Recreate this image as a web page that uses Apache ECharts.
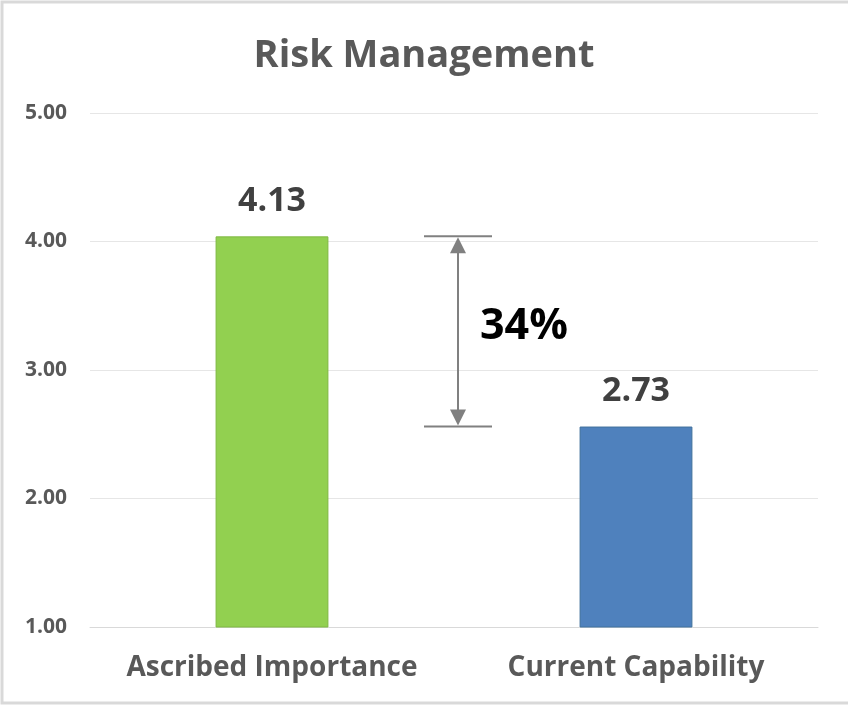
<!DOCTYPE html>
<html>
<head>
<meta charset="utf-8">
<script src="https://cdn.jsdelivr.net/npm/echarts@6/dist/echarts.min.js"></script>
<style>
  html, body { margin: 0; padding: 0; background: #fff; }
  #chart { width: 848px; height: 706px; }
</style>
</head>
<body>
<div id="chart"></div>
<script>
const categories = ["Ascribed Importance", "Current Capability"];
const barValues = [4.04, 2.56];
const barLabels = ["4.13", "2.73"];
const barColors = ["#92d050", "#4f81bd"];
const barBorders = ["#7fb843", "#41719c"];
const gapLabel = "34%";
const yTicks = [1, 2, 3, 4, 5];

const FONT = "'Open Sans', 'Noto Sans', sans-serif";

const el = document.getElementById("chart");
const chart = echarts.init(el, null, { renderer: "canvas" });

const options = {
  animation: false,
  backgroundColor: "#fff",
  title: {
    text: "Risk Management",
    left: "center",
    top: 32,
    textStyle: { fontFamily: FONT, fontSize: 38, fontWeight: "bold", color: "#595959" }
  },
  grid: { left: 90, right: 30, top: 113, bottom: 79, containLabel: false },
  xAxis: {
    type: "category",
    data: categories,
    axisLine: { lineStyle: { color: "#d9d9d9", width: 1 } },
    axisTick: { show: false },
    axisLabel: {
      interval: 0,
      hideOverlap: false,
      margin: 27,
      fontFamily: FONT,
      fontSize: 28,
      fontWeight: "bold",
      color: "#595959"
    }
  },
  yAxis: {
    type: "value",
    min: yTicks[0],
    max: yTicks[yTicks.length - 1],
    interval: 1,
    axisLine: { show: false },
    axisTick: { show: false },
    splitLine: { lineStyle: { color: "#e6e6e6", width: 1 } },
    axisLabel: {
      margin: 23,
      fontFamily: FONT,
      fontSize: 21,
      fontWeight: "bold",
      color: "#595959",
      formatter: (v) => v.toFixed(2)
    }
  },
  series: [{
    type: "bar",
    barWidth: "31%",
    data: barValues.map((v, i) => ({
      value: v,
      itemStyle: { color: barColors[i], borderColor: barBorders[i], borderWidth: 1 },
      label: { formatter: barLabels[i] }
    })),
    label: {
      show: true,
      position: "top",
      distance: 18,
      fontFamily: FONT,
      fontSize: 34,
      fontWeight: "bold",
      color: "#404040"
    }
  }]
};
chart.setOption(options);

// gap annotation between the two bar tops
const pTop = chart.convertToPixel({ gridIndex: 0 }, [0, barValues[0]]);
const pBot = chart.convertToPixel({ gridIndex: 0 }, [1, barValues[1]]);
const ax = Math.round((pTop[0] + pBot[0]) / 2) + 4;
const y1 = pTop[1];
const y2 = pBot[1];
const grey = "#808080";

chart.setOption({
  graphic: [
    { type: "rect", shape: { x: 2, y: 2, width: 860, height: 701 },
      style: { fill: null, stroke: "#d9d9d9", lineWidth: 3 }, silent: true },
    { type: "line", shape: { x1: ax - 34, y1: y1, x2: ax + 34, y2: y1 }, style: { stroke: grey, lineWidth: 2 } },
    { type: "line", shape: { x1: ax - 34, y1: y2, x2: ax + 34, y2: y2 }, style: { stroke: grey, lineWidth: 2 } },
    { type: "line", shape: { x1: ax, y1: y1 + 12, x2: ax, y2: y2 - 12 }, style: { stroke: grey, lineWidth: 2 } },
    { type: "polygon", shape: { points: [[ax, y1 + 1], [ax - 8, y1 + 17], [ax + 8, y1 + 17]] }, style: { fill: grey } },
    { type: "polygon", shape: { points: [[ax, y2 - 1], [ax - 8, y2 - 17], [ax + 8, y2 - 17]] }, style: { fill: grey } },
    { type: "text", x: ax + 22, y: (y1 + y2) / 2 - 5,
      style: { text: gapLabel, fontFamily: FONT, fontSize: 43, fontWeight: "bold", fill: "#000",
               textVerticalAlign: "middle" } }
  ]
});

window.addEventListener("resize", () => chart.resize());
</script>
</body>
</html>
